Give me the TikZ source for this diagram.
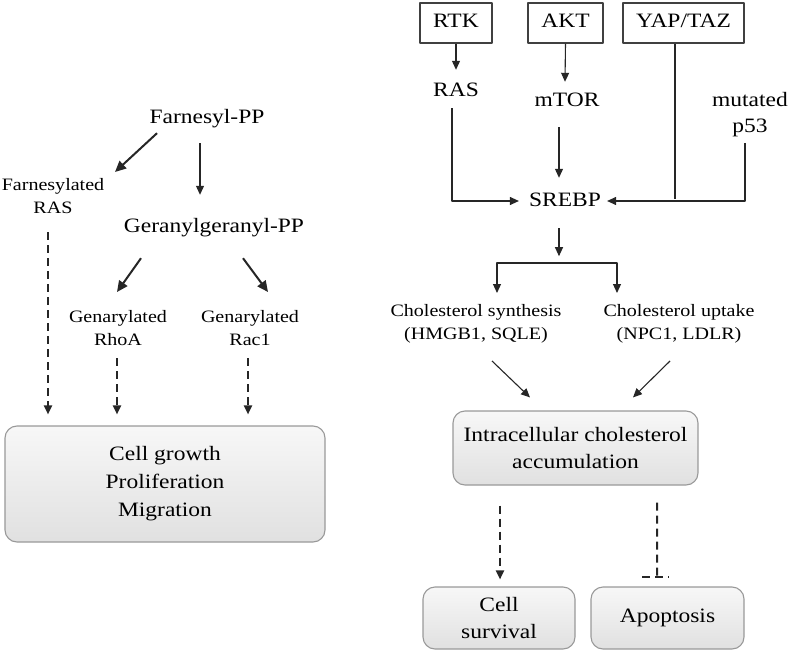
\documentclass[tikz,border=0pt]{standalone}
\usepackage{fontspec}
\setmainfont{Liberation Serif}[FakeStretch=1.15]
\usetikzlibrary{arrows.meta,calc}
\newcommand{\bigtxt}{\fontsize{20.5}{26}\selectfont}
\newcommand{\boxtxt}{\fontsize{20.5}{28}\selectfont}
\newcommand{\smalltxt}{\fontsize{17.5}{22.5}\selectfont}
\begin{document}
\begin{tikzpicture}[x=1bp, y=-1bp, line join=round, >={Triangle[length=9bp,width=8bp]},
	base/.style={inner sep=0, align=center, text=black},
	lbl/.style={base, font=\bigtxt, text height=14bp, text depth=4bp},
	mlbl/.style={base, font=\bigtxt},
	slbl/.style={base, font=\smalltxt},
	sqbox/.style={lbl, draw=black!75, line width=1.1bp, minimum height=40bp},
	rbox/.style={base, font=\boxtxt, draw=black!40, line width=1.1bp, rounded corners=12bp, top color=gray!6, bottom color=gray!24},
	thn/.style={->, line width=1.1bp, black!85},
	thk/.style={-{Triangle[length=11bp,width=10bp]}, line width=2bp, black!85},
	dsh/.style={line width=2bp, black!85, dash pattern=on 8bp off 5bp}]
	\useasboundingbox (0,0) rectangle (790,654);
	% left: prenylation branch
	\node[lbl] (fpp) at (207,119) {Farnesyl-PP};
	\node[slbl] (frsa) at (53,196) {Farnesylated\\RAS};
	\node[lbl] (gpp) at (214,227) {Geranylgeranyl-PP};
	\node[slbl] (rhoa) at (118,328) {Genarylated\\RhoA};
	\node[slbl] (rac) at (250,328) {Genarylated\\Rac1};
	\node[rbox, minimum width=320bp, minimum height=116bp] (growth) at (165,484) {Cell growth\\Proliferation\\Migration};
	\draw[thk] ($(fpp.south)+(-50,5)$) -- ($(frsa)+(62,-24)$);
	\draw[thn] ($(fpp.south)+(-7,15)$) -- ($(gpp.north)+(-14,-23)$);
	\draw[thk] ($(gpp.south)+(-73,22)$) -- ($(rhoa)+(-1,-36)$);
	\draw[thk] ($(gpp.south)+(29,22)$) -- ($(rac)+(18,-36)$);
	\draw[dsh,->] ($(frsa)+(-5,36)$) -- ($(growth.north)+(-117,-11)$);
	\draw[dsh,->] ($(rhoa)+(-1,30)$) -- ($(growth.north)+(-48,-11)$);
	\draw[dsh,->] ($(rac)+(-2,30)$) -- ($(growth.north)+(83,-11)$);
	% right: SREBP pathway
	\node[sqbox, minimum width=72bp] (rtk) at (456,23) {RTK};
	\node[sqbox, minimum width=75bp] (akt) at (565.5,23) {AKT};
	\node[sqbox, minimum width=121bp] (yap) at (683.5,23) {YAP/TAZ};
	\node[lbl] (ras) at (456,92) {RAS};
	\node[lbl] (mtor) at (567,102) {mTOR};
	\node[mlbl] (p53) at (750,115) {mutated\\p53};
	\node[lbl] (srebp) at (565,201) {SREBP};
	\draw[thn] (rtk.south) -- ($(ras.north)+(0,-13)$);
	\draw[thn] (akt.south) -- ($(mtor.north)+(-2,-11)$);
	\draw[thn] ($(mtor.south)+(-8,16)$) -- ($(srebp.north)+(-6,-14)$);
	\draw[thn] ($(ras.south)+(-4,7)$) |- ($(srebp.west)+(-10,0)$);
	\draw[thn] ($(p53)+(-5,28)$) |- ($(srebp.east)+(6,0)$);
	\draw[line width=1.1bp, black!85] ($(yap.south)+(-8.5,0)$) -- ($(yap.south)+(-8.5,155)$);
	\node[slbl] (synth) at (476,324) {Cholesterol synthesis\\(HMGB1, SQLE)};
	\node[slbl] (uptake) at (679,324) {Cholesterol uptake\\(NPC1, LDLR)};
	\draw[thn] ($(srebp.south)+(-6,18)$) -- ($(srebp.south)+(-6,46)$);
	\draw[thn, <->] ($(synth)+(21,-31)$) -- ++(0,-30) -| ($(uptake)+(-62,-31)$);
	\node[rbox, minimum width=245bp, minimum height=74bp] (accum) at (575.5,448) {Intracellular cholesterol\\accumulation};
	\draw[thn] ($(synth)+(16,37)$) -- ($(accum.north)+(-45.5,-13)$);
	\draw[thn] ($(uptake)+(-9,37)$) -- ($(accum.north)+(57.5,-13)$);
	\node[rbox, minimum width=152bp, minimum height=62bp] (surv) at (499,618) {Cell\\survival};
	\node[rbox, minimum width=153bp, minimum height=62bp] (apop) at (667.5,618) {Apoptosis};
	\draw[dsh,->] ($(accum.south)+(-75.5,20)$) -- ($(surv.north)+(1,-7)$);
	\coordinate (inh) at ($(apop.north)+(-10.5,-9)$);
	\draw[dsh] ($(accum.south)+(81.5,17)$) -- (inh);
	\draw[dsh] ($(inh)+(-15,0)$) -- ($(inh)+(12,0)$);
\end{tikzpicture}
\end{document}
